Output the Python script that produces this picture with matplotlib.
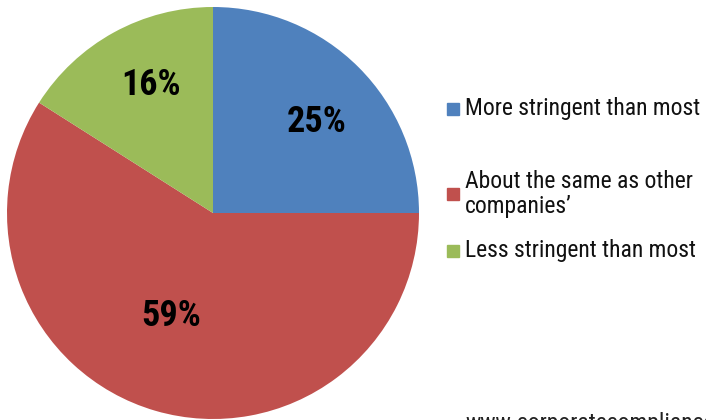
import numpy as np
import matplotlib.pyplot as plt
from matplotlib.lines import Line2D

labels = ['More stringent than most', 'About the same as other\ncompanies\u2019', 'Less stringent than most']
values = [25, 59, 16]
pct_text = ['25%', '59%', '16%']
colors = ['#4F81BD', '#C0504D', '#9BBB59']
label_r = [0.67, 0.54, 0.69]
label_shift = [-4, -6, -3]
legend_y = [109, 194, 251]

plt.rcParams['font.family'] = ['Roboto Condensed', 'DejaVu Sans']

W, H = 706, 420
fig = plt.figure(figsize=(W / 100, H / 100), dpi=100)
ax = fig.add_axes([7 / W, 1 - 419 / H, 412 / W, 412 / H])
wedges, _ = ax.pie(values, colors=colors, startangle=90, counterclock=False,
                   radius=1, wedgeprops=dict(linewidth=0))
ax.set_xlim(-1, 1)
ax.set_ylim(-1, 1)
ax.set_aspect('equal')

for w, t, r, s in zip(wedges, pct_text, label_r, label_shift):
    th = np.deg2rad((w.theta1 + w.theta2) / 2 + s)
    ax.text(r * np.cos(th), r * np.sin(th), t, ha='center', va='center',
            fontsize=26, fontweight='bold', color='black')

for lab, c, y in zip(labels, colors, legend_y):
    fy = 1 - y / H
    fig.add_artist(Line2D([453 / W], [fy], marker='s', markersize=9, color=c,
                          linestyle='none', transform=fig.transFigure))
    fig.text(465 / W, fy, lab, ha='left', va='center', fontsize=17,
             color='#111111', linespacing=1.1)

fig.text(465 / W, -10 / H, 'www.corporatecompliance.org', ha='left',
         va='baseline', fontsize=17, color='#222222')

fig.savefig('out.png', dpi=100)
